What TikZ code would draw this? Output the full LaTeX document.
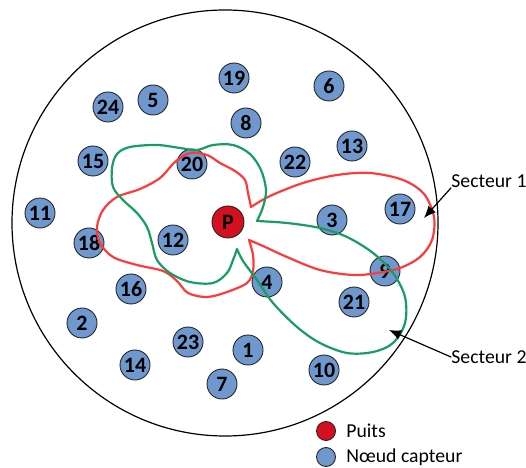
\documentclass[tikz,border=0pt]{standalone}
\usepackage{fontspec}
\setmainfont{Carlito}
\usetikzlibrary{positioning,arrows.meta}
\definecolor{bleucapteur}{RGB}{110,152,206}
\definecolor{rougepuits}{RGB}{212,16,32}
\definecolor{rougesect}{RGB}{255,58,58}
\definecolor{vertsect}{RGB}{22,158,98}
\begin{document}
\begin{tikzpicture}[x=0.5bp,y=-0.5bp,line cap=round,line join=round,>={Latex[length=6bp,width=5bp]},
  capteur/.style={circle,draw=black!85,line width=0.45pt,fill=bleucapteur,minimum size=15bp,inner sep=0pt,font=\fontsize{11}{12}\selectfont\bfseries},
  puits/.style={capteur,fill=rougepuits,minimum size=16bp},
  legende/.style={circle,draw=black!85,line width=0.45pt,minimum size=9.5bp,inner sep=0pt},
  texte/.style={inner sep=0pt,font=\fontsize{9.9}{11}\selectfont},
  secteur/.style={line width=1.1pt}]
  \useasboundingbox (0,0) rectangle (526,468);
  \draw[line width=0.6pt] (225,223) circle[radius=106.5bp];
  % puits
  \node[puits] (p) at (228,222) {P};
  % noeuds capteurs
  \node[capteur] (n1) at (248,350) {1};
  \node[capteur] (n2) at (82,323) {2};
  \node[capteur] (n3) at (332,220) {3};
  \node[capteur] (n4) at (267,282) {4};
  \node[capteur] (n5) at (153,100) {5};
  \node[capteur] (n6) at (329,86) {6};
  \node[capteur] (n7) at (222,384) {7};
  \node[capteur] (n8) at (246,123) {8};
  \node[capteur] (n9) at (385,271) {9};
  \node[capteur] (n10) at (324,370) {10};
  \node[capteur] (n11) at (40,213) {11};
  \node[capteur] (n12) at (173,240) {12};
  \node[capteur] (n13) at (352,146) {13};
  \node[capteur] (n14) at (135,365) {14};
  \node[capteur] (n15) at (93,161) {15};
  \node[capteur] (n16) at (131,289) {16};
  \node[capteur] (n17) at (400,209) {17};
  \node[capteur] (n18) at (89,243) {18};
  \node[capteur] (n19) at (234,78) {19};
  \node[capteur] (n20) at (192,164) {20};
  \node[capteur] (n21) at (354,302) {21};
  \node[capteur] (n22) at (295,162) {22};
  \node[capteur] (n23) at (188,342) {23};
  \node[capteur] (n24) at (108,107) {24};
  % secteur 1
  \draw[secteur,rougesect] plot[smooth,tension=0.55] coordinates {(251,207) (248,193) (245,180) (235,171) (220,163) (207,155) (190,153) (175,162) (160,178) (140,189) (117,197) (103,210) (97,227) (100,243) (113,257) (137,265) (163,271) (177,281) (188,293) (207,297) (227,292) (247,283) (253,271) (253,255) (249,240)}
    -- plot[smooth,tension=0.55] coordinates {(249,240) (263,246) (287,257) (320,270) (353,275) (377,273) (400,268) (420,257) (432,240) (434,217) (424,194) (403,180) (370,173) (337,175) (303,183) (270,196) (251,207)} -- cycle;
  % secteur 2
  \draw[secteur,vertsect] plot[smooth,tension=0.55] coordinates {(257,221) (263,207) (266,190) (261,170) (250,154) (233,145) (213,145) (197,150) (180,148) (157,145) (130,147) (117,154) (112,168) (113,187) (123,200) (137,213) (147,227) (152,243) (157,260) (170,273) (190,282) (213,283) (227,273) (233,260) (237,249)}
    -- plot[smooth,tension=0.55] coordinates {(237,249) (243,261) (257,280) (273,303) (297,327) (320,343) (347,353) (373,352) (393,343) (405,323) (405,297) (393,273) (373,253) (347,237) (320,228) (287,223) (257,221)} -- cycle;
  % etiquettes
  \node[texte,anchor=west] (s1) at (451,181) {Secteur 1};
  \node[texte,anchor=west] (s2) at (451,357) {Secteur 2};
  \coordinate (f1) at (424,218);
  \coordinate (f2) at (389,330);
  \draw[->,line width=0.6pt] (s1.south west) -- (f1);
  \draw[->,line width=0.6pt] (s2.west) -- (f2);
  % legende
  \node[legende,fill=rougepuits] (lp) at (326,431) {};
  \node[legende,fill=bleucapteur] (lc) at (326,457) {};
  \node[texte,right=5bp of lp] {Puits};
  \node[texte,right=5bp of lc] {Nœud capteur};
\end{tikzpicture}
\end{document}
